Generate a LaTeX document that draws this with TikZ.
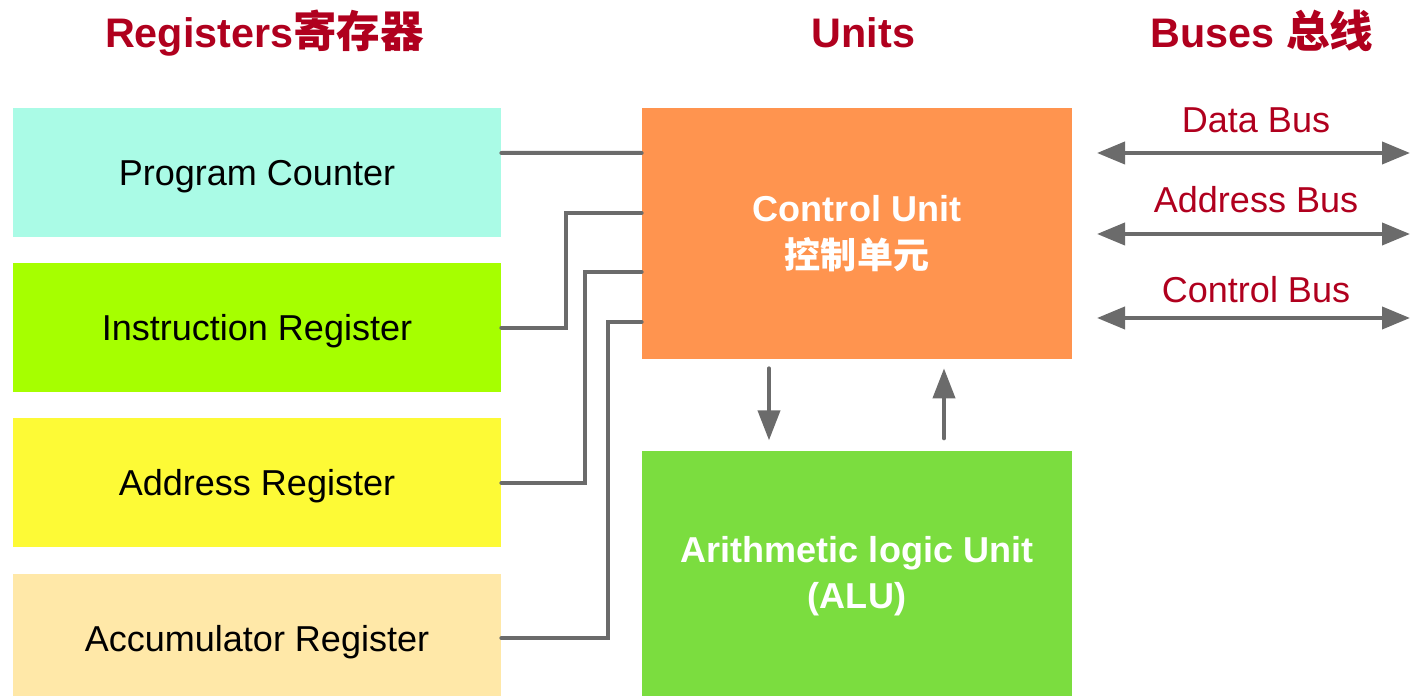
\documentclass[tikz,border=0pt]{standalone}
\usepackage{fontspec}
\setmainfont{Liberation Sans}
\newfontfamily\cjk{Noto Sans CJK SC}
\usepackage{tikz}
\usetikzlibrary{arrows.meta}
\usetikzlibrary{positioning}

\definecolor{titlered}{HTML}{B0001E}
\definecolor{pccyan}{HTML}{AAFBE6}
\definecolor{irgreen}{HTML}{A6FF00}
\definecolor{aryellow}{HTML}{FDFA36}
\definecolor{accbeige}{HTML}{FFE8A8}
\definecolor{cuorange}{HTML}{FF944F}
\definecolor{alugreen}{HTML}{7BDD3F}
\definecolor{linegray}{HTML}{6B6B6B}

\begin{document}
\begin{tikzpicture}

			\tikzset{TitleStyle/.style = {anchor = base,
					text = titlered,
					font = \bfseries\fontsize{23.5}{28}\selectfont}}

			\tikzset{RegStyle/.style = {shape          = rectangle,
					minimum width  = 9.76cm,
					minimum height = 2.58cm,
					text height    = 0.52cm,
					text depth     = 0pt,
					font = \fontsize{20.5}{24}\selectfont}}

			\tikzset{UnitStyle/.style = {shape          = rectangle,
					minimum width  = 8.6cm,
					minimum height = 5.02cm,
					align          = center,
					text           = white,
					font = \bfseries\fontsize{20.5}{26.6}\selectfont}}

			\tikzset{BusLabel/.style = {anchor = base,
					text = titlered,
					font = \fontsize{20.5}{24}\selectfont}}

			\tikzset{EdgeStyle/.style   = {draw = linegray, line width = 0.08cm, line cap = round}}
			\tikzset{FlowStyle/.style   = {EdgeStyle, -{Triangle[length=0.6cm,width=0.44cm]}}}
			\tikzset{BusStyle/.style    = {EdgeStyle,
					{Triangle[length=0.56cm,width=0.44cm]}-{Triangle[length=0.56cm,width=0.44cm]}}}

			\useasboundingbox (0,0) rectangle (28.22,13.92);

			% titles
			\node[TitleStyle](regs) at (5.29,12.96){Registers{\cjk\bfseries\fontsize{24.8}{28}\selectfont 寄存器}};
			\node[TitleStyle](units) at (17.27,12.97){Units};
			\node[TitleStyle](buses) at (25.24,12.96){Buses {\cjk\bfseries\fontsize{24.8}{28}\selectfont 总线}};

			% registers
			\node[RegStyle,fill=pccyan](pc) at (5.14,10.47){Program Counter};
			\node[RegStyle,fill=irgreen,below=0.51cm of pc](ir){Instruction Register};
			\node[RegStyle,fill=aryellow,below=0.51cm of ir](ar){Address Register};
			\node[RegStyle,fill=accbeige,below=0.51cm of ar](acc){Accumulator Register};

			% units
			\node[UnitStyle,fill=cuorange](cu) at (17.14,9.25){Control Unit\\{\cjk\bfseries 控制单元}};
			\node[UnitStyle,fill=alugreen,below=1.82cm of cu](alu){Arithmetic logic Unit\\(ALU)};

			\draw[EdgeStyle]([yshift=0.39cm]pc.east) -- ([yshift=1.61cm]cu.west);
			\draw[EdgeStyle](ir.east) -- ++(1.29,0) |- ([yshift=0.41cm]cu.west);
			\draw[EdgeStyle](ar.east) -- ++(1.68,0) |- ([yshift=-0.77cm]cu.west);
			\draw[EdgeStyle](acc.east) -- ++(2.13,0) |- ([yshift=-1.77cm]cu.west);

			\draw[FlowStyle]([xshift=-1.76cm,yshift=-0.18cm]cu.south) -- ([xshift=-1.76cm,yshift=0.2cm]alu.north);
			\draw[FlowStyle]([xshift=1.74cm,yshift=0.24cm]alu.north) -- ([xshift=1.74cm,yshift=-0.18cm]cu.south);

			% buses
			\node[BusLabel](data) at (25.12,11.26){Data Bus};
			\node[BusLabel](addr) at (25.12,9.66){Address Bus};
			\node[BusLabel](ctrl) at (25.12,7.86){Control Bus};

			\coordinate (data-l) at (21.94,10.86);
			\coordinate (data-r) at (28.2,10.86);
			\coordinate (addr-l) at (21.94,9.24);
			\coordinate (addr-r) at (28.2,9.24);
			\coordinate (ctrl-l) at (21.94,7.56);
			\coordinate (ctrl-r) at (28.2,7.56);

			\draw[BusStyle](data-l) -- (data-r);
			\draw[BusStyle](addr-l) -- (addr-r);
			\draw[BusStyle](ctrl-l) -- (ctrl-r);
			\end{tikzpicture}
\end{document}
